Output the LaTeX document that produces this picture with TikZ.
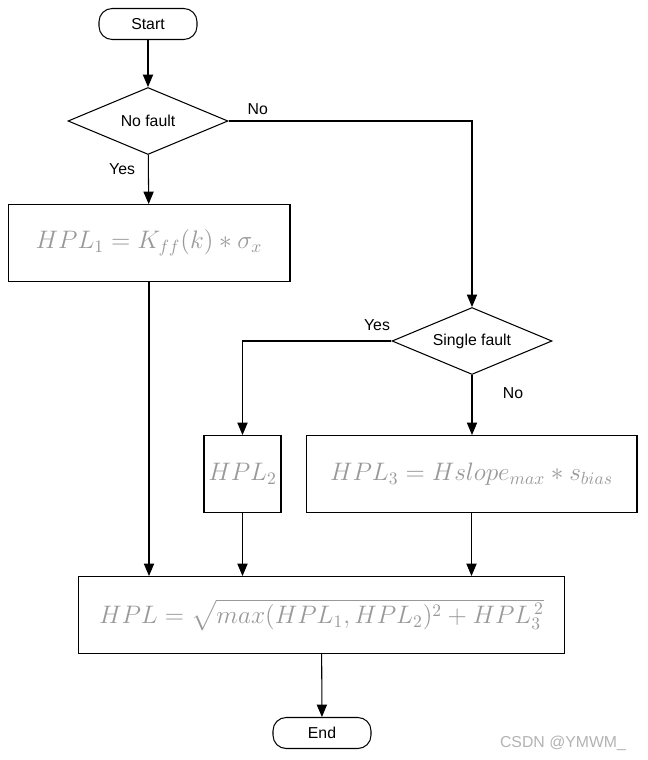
\documentclass[tikz,border=0pt]{standalone}
\usepackage{amsmath,amssymb}
\usepackage{fontspec}
\setmainfont{Liberation Sans}
\usetikzlibrary{arrows, shapes.geometric, positioning}
\tikzset{
  term/.style={draw, rounded corners=7.5pt, minimum width=1.96cm, minimum height=0.62cm, font=\small},
  decide/.style={draw, diamond, aspect=2.4, minimum width=3.2cm, minimum height=1.34cm, inner sep=0pt, font=\small},
  proc/.style={draw, minimum height=1.54cm, inner sep=2pt, font=\Large, text=gray!80},
  lbl/.style={font=\small}
}
\newcommand{\drawa}{\draw[->]}

\begin{document}
\begin{tikzpicture}[>=triangle 45, x=0.02cm, y=-0.02cm, line width=0.6pt]
\useasboundingbox (0,0) rectangle (647,760);
% Knoten
\node[term] (start) at (148,24) {Start};
\node[decide] (nofault) at (148,121) {No fault};
\node[proc, minimum width=5.64cm] (hplone) at (149,243) {$HPL_1 = K_{ff}(k) * \sigma_x$};
\node[decide] (single) at (472,341) {Single fault};
\node[proc, minimum width=1.54cm] (hpltwo) at (242.5,474) {$HPL_2$};
\node[proc, minimum width=6.62cm] (hplthree) at (471.5,474) {$HPL_3 = Hslope_{max} * s_{bias}$};
\node[proc, minimum width=9.74cm] (hpl) at (321.5,615) {$HPL = \sqrt{max(HPL_1, HPL_2)^2 + HPL_{3}^{\,2}}$};
\node[term] (end) at (322,733) {End};
\node[text=gray!60, font=\small] (mark) at (563,743) {CSDN @YMWM\_};

% Verbindungen
\drawa (start) -- (nofault);
\drawa (nofault) -- node[lbl, left, pos=0.3, xshift=-4pt] {Yes} (hplone);
\drawa (nofault.east) -- node[lbl, above, pos=0.12] {No} (nofault.east -| single) -- (single.north);
\drawa (single.west) -- node[lbl, above, pos=0.05, xshift=-4pt, yshift=2pt] {Yes} (single.west -| hpltwo) -- (hpltwo.north);
\drawa (single) -- node[lbl, right, pos=0.3, xshift=14pt] {No} (hplthree.north -| single);
\drawa (hplone.south) -- (hplone.south |- hpl.north);
\drawa (hpltwo.south) -- (hpltwo.south |- hpl.north);
\drawa (hplthree.south) -- (hplthree.south |- hpl.north);
\drawa (hpl) -- (end);
\end{tikzpicture}
\end{document}
